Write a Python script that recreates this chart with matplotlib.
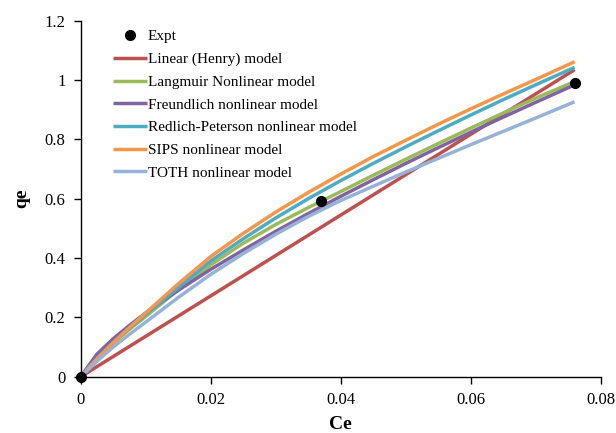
import matplotlib
matplotlib.use("Agg")
import matplotlib.pyplot as plt
from matplotlib.ticker import FuncFormatter

# ---- data ----
expt_ce = [0.0, 0.037, 0.076]
expt_qe = [0.0, 0.594, 0.99]

ce_grid = [0.0, 0.0025, 0.005, 0.0075, 0.01, 0.015, 0.02, 0.025, 0.03, 0.035,
           0.04, 0.045, 0.05, 0.055, 0.06, 0.065, 0.07, 0.076]

linear_ce = [0.0, 0.076]
linear_qe = [0.0, 1.035]

langmuir_qe = [0.0, 0.062, 0.114, 0.160, 0.203, 0.293, 0.377, 0.450, 0.513, 0.570,
               0.624, 0.679, 0.733, 0.786, 0.838, 0.889, 0.939, 0.995]
freundlich_qe = [0.0, 0.076, 0.128, 0.173, 0.215, 0.291, 0.362, 0.427, 0.490, 0.550,
                 0.608, 0.664, 0.719, 0.772, 0.824, 0.875, 0.925, 0.984]
redlich_qe = [0.0, 0.062, 0.115, 0.163, 0.209, 0.300, 0.390, 0.465, 0.535, 0.600,
              0.661, 0.719, 0.775, 0.829, 0.882, 0.934, 0.984, 1.043]
sips_qe = [0.0, 0.060, 0.115, 0.166, 0.215, 0.313, 0.405, 0.483, 0.555, 0.621,
           0.683, 0.742, 0.797, 0.851, 0.903, 0.953, 1.002, 1.062]
toth_qe = [0.0, 0.052, 0.100, 0.143, 0.184, 0.267, 0.345, 0.415, 0.480, 0.540,
           0.594, 0.642, 0.690, 0.736, 0.782, 0.827, 0.872, 0.927]

labels = ["Expt", "Linear (Henry) model", "Langmuir Nonlinear model",
          "Freundlich nonlinear model", "Redlich-Peterson nonlinear model",
          "SIPS nonlinear model", "TOTH nonlinear model"]

x_ticks = [0, 0.02, 0.04, 0.06, 0.08]
y_ticks = [0, 0.2, 0.4, 0.6, 0.8, 1.0, 1.2]

colors = {"linear": "#C0504D", "langmuir": "#9BBB59", "freundlich": "#8064A2",
          "redlich": "#4BACC6", "sips": "#F79646", "toth": "#95B3D7"}

plt.rcParams['font.family'] = ['Liberation Serif', 'DejaVu Serif']

fig = plt.figure(figsize=(6.16, 4.33), dpi=100)
ax = fig.add_axes([0.131, 0.130, 0.844, 0.822])

lw = 2.5
ax.plot(linear_ce, linear_qe, color=colors["linear"], lw=lw, label=labels[1], solid_capstyle='butt')
ax.plot(ce_grid, langmuir_qe, color=colors["langmuir"], lw=lw, label=labels[2], solid_capstyle='butt')
ax.plot(ce_grid, freundlich_qe, color=colors["freundlich"], lw=lw, label=labels[3], solid_capstyle='butt')
ax.plot(ce_grid, redlich_qe, color=colors["redlich"], lw=lw, label=labels[4], solid_capstyle='butt')
ax.plot(ce_grid, sips_qe, color=colors["sips"], lw=lw, label=labels[5], solid_capstyle='butt')
ax.plot(ce_grid, toth_qe, color=colors["toth"], lw=lw, label=labels[6], solid_capstyle='butt')
ax.plot(expt_ce, expt_qe, 'o', color='black', ms=7, label=labels[0], zorder=10, clip_on=False)

ax.set_xlim(0, 0.08)
ax.set_ylim(0, 1.2)
ax.set_xticks(x_ticks)
ax.set_yticks(y_ticks)
fmt = FuncFormatter(lambda v, p: f"{v:g}")
ax.xaxis.set_major_formatter(fmt)
ax.yaxis.set_major_formatter(fmt)
ax.tick_params(direction='out', length=5, width=1, labelsize=12, colors='black', pad=6)

for s in ['top', 'right']:
    ax.spines[s].set_visible(False)
for s in ['left', 'bottom']:
    ax.spines[s].set_linewidth(1.0)
    ax.spines[s].set_color('black')

ax.set_xlabel("Ce", fontsize=14, fontweight='bold', labelpad=6)
ax.set_ylabel("qe", fontsize=14, fontweight='bold', labelpad=10)

handles, labs = ax.get_legend_handles_labels()
order = [6, 0, 1, 2, 3, 4, 5]
leg = ax.legend([handles[i] for i in order], [labs[i] for i in order],
                loc='upper left', bbox_to_anchor=(0.063, 0.975), frameon=False,
                fontsize=11, handlelength=2.2, handletextpad=0.05,
                labelspacing=0.59, borderaxespad=0.0, borderpad=0.0)

fig.savefig("out.png", dpi=100)
